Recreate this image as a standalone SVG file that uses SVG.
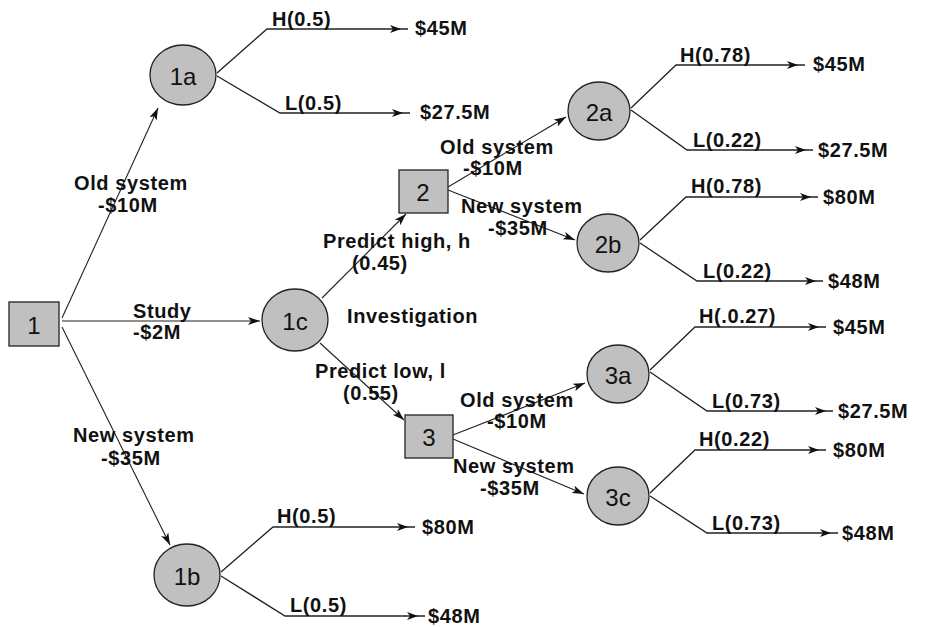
<svg xmlns="http://www.w3.org/2000/svg" width="942" height="627" viewBox="0 0 942 627">
<defs>
<style>
.bg{fill:#ffffff}
.nd{fill:#c0c0c0;stroke:#222;stroke-width:1.3}
.nl{font-family:"Liberation Sans",Arial,sans-serif;font-size:24px;fill:#111;text-anchor:middle;dominant-baseline:central}
.lb{font-family:"Liberation Sans",Arial,sans-serif;font-size:20px;font-weight:bold;letter-spacing:0.6px;fill:#111}
.cn{fill:none;stroke:#222;stroke-width:1.1}
.br{fill:none;stroke:#222;stroke-width:1.3}
</style>
<marker id="ah" viewBox="0 0 12 8" refX="12" refY="4" markerWidth="12" markerHeight="8" markerUnits="userSpaceOnUse" orient="auto">
<path d="M0,0 L12,4 L0,8 L3,4 z" fill="#111"/>
</marker>
<marker id="at" viewBox="0 0 18 8" refX="18" refY="4" markerWidth="18" markerHeight="8" markerUnits="userSpaceOnUse" orient="auto">
<path d="M0,0 L11,4 L0,8 L3,4 z" fill="#111"/>
</marker>
</defs>
<rect class="bg" x="0" y="0" width="942" height="627"/>

<g id="connectors">
<path class="cn" d="M62,318 L158,108" marker-end="url(#ah)"/>
<path class="cn" d="M62,321 L260,321" marker-end="url(#ah)"/>
<path class="cn" d="M62,327 L170,545" marker-end="url(#ah)"/>
<path class="cn" d="M322,298 L406,214" marker-end="url(#ah)"/>
<path class="cn" d="M320,343 L404,420" marker-end="url(#ah)"/>
<path class="cn" d="M448,187 L566,117" marker-end="url(#ah)"/>
<path class="cn" d="M448,190 L575,240" marker-end="url(#ah)"/>
<path class="cn" d="M453,435 L585,383" marker-end="url(#ah)"/>
<path class="cn" d="M453,439 L584,494" marker-end="url(#ah)"/>

<polyline class="br" points="217,73 267,29 408,29" marker-end="url(#at)"/>
<polyline class="br" points="217,76 280,113 410,113" marker-end="url(#at)"/>
<polyline class="br" points="221,572 273,527 415,527" marker-end="url(#at)"/>
<polyline class="br" points="221,576 285,616 425,616" marker-end="url(#at)"/>
<polyline class="br" points="631,108 676,65 805,65" marker-end="url(#at)"/>
<polyline class="br" points="631,110 687,150 813,150" marker-end="url(#at)"/>
<polyline class="br" points="640,240 686,197 818,197" marker-end="url(#at)"/>
<polyline class="br" points="640,243 697,281 823,281" marker-end="url(#at)"/>
<polyline class="br" points="650,370 695,327 826,327" marker-end="url(#at)"/>
<polyline class="br" points="650,372 707,411 833,411" marker-end="url(#at)"/>
<polyline class="br" points="650,493 695,450 826,450" marker-end="url(#at)"/>
<polyline class="br" points="650,496 707,533 838,533" marker-end="url(#at)"/>

<text class="lb" x="74" y="190">Old system</text>
<text class="lb" x="98" y="212">-$10M</text>
<text class="lb" x="133" y="318">Study</text>
<text class="lb" x="133" y="339">-$2M</text>
<text class="lb" x="73" y="442">New system</text>
<text class="lb" x="101" y="465">-$35M</text>
<text class="lb" x="323" y="248">Predict high, h</text>
<text class="lb" x="352" y="270">(0.45)</text>
<text class="lb" x="347" y="323">Investigation</text>
<text class="lb" x="315" y="378">Predict low, l</text>
<text class="lb" x="343" y="400">(0.55)</text>
<text class="lb" x="440" y="154">Old system</text>
<text class="lb" x="463" y="175">-$10M</text>
<text class="lb" x="461" y="213">New system</text>
<text class="lb" x="488" y="235">-$35M</text>
<text class="lb" x="460" y="407">Old system</text>
<text class="lb" x="487" y="428">-$10M</text>
<text class="lb" x="453" y="473">New system</text>
<text class="lb" x="480" y="495">-$35M</text>

<text class="lb" x="272" y="26">H(0.5)</text>
<text class="lb" x="415" y="35">$45M</text>
<text class="lb" x="285" y="110">L(0.5)</text>
<text class="lb" x="420" y="119">$27.5M</text>
<text class="lb" x="277" y="523">H(0.5)</text>
<text class="lb" x="422" y="534">$80M</text>
<text class="lb" x="290" y="612">L(0.5)</text>
<text class="lb" x="428" y="623">$48M</text>
<text class="lb" x="680" y="62">H(0.78)</text>
<text class="lb" x="813" y="71">$45M</text>
<text class="lb" x="693" y="147">L(0.22)</text>
<text class="lb" x="818" y="157">$27.5M</text>
<text class="lb" x="691" y="193">H(0.78)</text>
<text class="lb" x="823" y="204">$80M</text>
<text class="lb" x="703" y="278">L(0.22)</text>
<text class="lb" x="828" y="288">$48M</text>
<text class="lb" x="699" y="323">H(.0.27)</text>
<text class="lb" x="833" y="334">$45M</text>
<text class="lb" x="712" y="408">L(0.73)</text>
<text class="lb" x="838" y="418">$27.5M</text>
<text class="lb" x="699" y="446">H(0.22)</text>
<text class="lb" x="833" y="457">$80M</text>
<text class="lb" x="712" y="530">L(0.73)</text>
<text class="lb" x="842" y="540">$48M</text>
</g>

<g id="node-1"><rect class="nd" x="9" y="302" width="50" height="44"/><text class="nl" x="34" y="325">1</text></g>
<g id="node-2"><rect class="nd" x="399" y="170" width="49" height="43"/><text class="nl" x="423" y="192">2</text></g>
<g id="node-3"><rect class="nd" x="405" y="415" width="48" height="43"/><text class="nl" x="429" y="437">3</text></g>
<g id="node-1a"><ellipse class="nd" cx="183" cy="75" rx="33" ry="30"/><text class="nl" x="183" y="76">1a</text></g>
<g id="node-1c"><ellipse class="nd" cx="295" cy="320" rx="33" ry="31"/><text class="nl" x="295" y="321">1c</text></g>
<g id="node-1b"><ellipse class="nd" cx="187" cy="575" rx="33" ry="31"/><text class="nl" x="187" y="576">1b</text></g>
<g id="node-2a"><ellipse class="nd" cx="599" cy="111" rx="31" ry="29"/><text class="nl" x="599" y="112">2a</text></g>
<g id="node-2b"><ellipse class="nd" cx="608" cy="243" rx="31" ry="29"/><text class="nl" x="608" y="244">2b</text></g>
<g id="node-3a"><ellipse class="nd" cx="618" cy="374" rx="31" ry="29"/><text class="nl" x="618" y="375">3a</text></g>
<g id="node-3c"><ellipse class="nd" cx="618" cy="496" rx="31" ry="29"/><text class="nl" x="618" y="497">3c</text></g>
</svg>
